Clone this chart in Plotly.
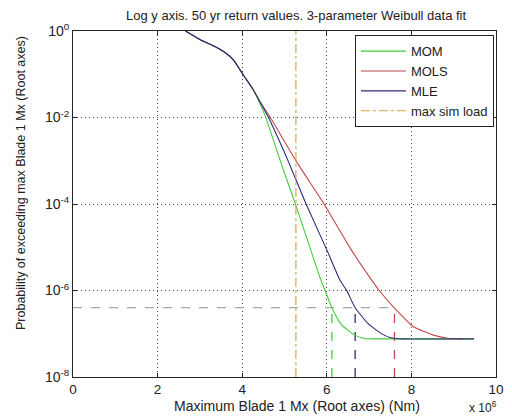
import plotly.graph_objects as go

# ---- data (x in units of 1e6 Nm, y = exceedance probability) ----
mom_x = [2.66, 3.02, 3.33, 3.57, 3.80, 4.03, 4.26, 4.40, 4.55, 4.92, 5.25, 5.62, 5.86, 5.96, 6.12, 6.35, 6.66, 6.89, 7.50, 9.48]
mom_y = [1.0, 0.62, 0.45, 0.33, 0.21, 0.095, 0.044, 2.3e-2, 1.05e-2, 8.7e-4, 1.05e-4, 8.7e-6, 1.74e-6, 1.0e-6, 4.0e-7, 1.6e-7, 9.3e-8, 7.8e-8, 7.6e-8, 7.6e-8]

mols_x = [2.66, 3.02, 3.33, 3.57, 3.80, 4.03, 4.26, 4.45, 4.65, 5.31, 5.92, 6.58, 7.06, 7.24, 7.59, 8.05, 8.52, 8.86, 9.20]
mols_y = [1.0, 0.62, 0.45, 0.33, 0.21, 0.095, 0.044, 2.1e-2, 1.05e-2, 8.7e-4, 1.05e-4, 8.7e-6, 1.74e-6, 1.0e-6, 4.0e-7, 1.45e-7, 9.3e-8, 7.9e-8, 7.6e-8]

mle_x = [2.66, 3.02, 3.33, 3.57, 3.80, 4.03, 4.26, 4.43, 4.61, 5.11, 5.50, 6.00, 6.31, 6.47, 6.67, 6.97, 7.28, 7.51, 7.80, 9.48]
mle_y = [1.0, 0.62, 0.45, 0.33, 0.21, 0.095, 0.044, 2.2e-2, 1.05e-2, 8.7e-4, 1.05e-4, 8.7e-6, 1.74e-6, 1.0e-6, 4.0e-7, 1.74e-7, 1.02e-7, 8.1e-8, 7.6e-8, 7.6e-8]

max_sim_load = 5.27
return_prob = 4.0e-7
return_values = {"MOM": 6.12, "MLE": 6.67, "MOLS": 7.60}

x_ticks = [0, 2, 4, 6, 8, 10]
y_ticks = [1e-8, 1e-6, 1e-4, 1e-2, 1e0]
y_ticktext = ["10<sup>-8</sup>", "10<sup>-6</sup>", "10<sup>-4</sup>", "10<sup>-2</sup>", "10<sup>0</sup>"]

C_MOM = "#3ccc3c"
C_MOLS = "#c04848"
C_MLE = "#2c2c78"
C_LOAD = "#d4a43c"
C_GRAY = "#a8a8a8"

y_lo, y_hi = 1e-8, 1e0

fig = go.Figure()

# horizontal return-level dashed line
fig.add_trace(go.Scatter(x=[0, return_values["MOLS"]], y=[return_prob, return_prob], mode="lines",
                         line=dict(color=C_GRAY, width=1.3, dash="dash"), showlegend=False, hoverinfo="skip"))
# vertical dashed lines to return values
for name, col in [("MOM", C_MOM), ("MLE", C_MLE), ("MOLS", C_MOLS)]:
    fig.add_trace(go.Scatter(x=[return_values[name]] * 2, y=[y_lo, return_prob], mode="lines",
                             line=dict(color=col, width=1.3, dash="dash"), showlegend=False, hoverinfo="skip"))

fig.add_trace(go.Scatter(x=mom_x, y=mom_y, mode="lines", name="MOM",
                         line=dict(color=C_MOM, width=1.1, shape="spline", smoothing=0.5)))
fig.add_trace(go.Scatter(x=mols_x, y=mols_y, mode="lines", name="MOLS",
                         line=dict(color=C_MOLS, width=1.1, shape="spline", smoothing=0.5)))
fig.add_trace(go.Scatter(x=mle_x, y=mle_y, mode="lines", name="MLE",
                         line=dict(color=C_MLE, width=1.1, shape="spline", smoothing=0.5)))
fig.add_trace(go.Scatter(x=[max_sim_load, max_sim_load], y=[y_lo, y_hi], mode="lines", name="max sim load",
                         line=dict(color=C_LOAD, width=1.1, dash="dashdot")))

FAM = "Liberation Sans, Arial, sans-serif"
tick_font = dict(family=FAM, size=13.5, color="#222")

fig.update_layout(
    width=512, height=418,
    margin=dict(l=73, r=8, t=31, b=41),
    paper_bgcolor="white", plot_bgcolor="white",
    font=dict(family=FAM, size=12, color="#222"),
    showlegend=True,
    legend=dict(x=0.995, y=0.988, xanchor="right", yanchor="top",
                bordercolor="#222", borderwidth=1, bgcolor="white",
                font=dict(family=FAM, size=13, color="#222"),
                tracegroupgap=0, itemwidth=45),
    xaxis=dict(range=[0, 10], tickvals=x_ticks, ticktext=[str(v) for v in x_ticks],
               showgrid=True, gridcolor="#444", griddash="1px,3px", gridwidth=1,
               showline=True, linecolor="#222", linewidth=1, mirror="ticks",
               ticks="inside", ticklen=4, tickcolor="#222", zeroline=False,
               tickfont=tick_font),
    yaxis=dict(type="log", range=[-8, 0], tickvals=y_ticks, ticktext=y_ticktext,
               showgrid=True, gridcolor="#444", griddash="1px,3px", gridwidth=1,
               showline=True, linecolor="#222", linewidth=1, mirror="ticks",
               ticks="inside", ticklen=4, tickcolor="#222", zeroline=False,
               tickfont=dict(family=FAM, size=14, color="#222")),
    annotations=[
        dict(text="Log y axis. 50 yr return values. 3-parameter Weibull data fit",
             xref="paper", yref="paper", x=(300 - 73) / 431, y=(377 - 15) / 346,
             xanchor="center", yanchor="middle", showarrow=False,
             font=dict(family=FAM, size=13, color="#222")),
        dict(text="Maximum Blade 1 Mx (Root axes) (Nm)",
             xref="paper", yref="paper", x=(301 - 73) / 431, y=(377 - 406) / 346,
             xanchor="center", yanchor="middle", showarrow=False,
             font=dict(family=FAM, size=14, color="#222")),
        dict(text="x 10<sup>6</sup>",
             xref="paper", yref="paper", x=(491 - 73) / 431, y=(377 - 407) / 346,
             xanchor="center", yanchor="middle", showarrow=False,
             font=dict(family=FAM, size=12, color="#222")),
        dict(text="Probability of exceeding max Blade 1 Mx (Root axes)",
             xref="paper", yref="paper", x=(20 - 73) / 431, y=(377 - 183) / 346,
             xanchor="center", yanchor="middle", textangle=-90, showarrow=False,
             font=dict(family=FAM, size=12.5, color="#222")),
    ],
)

fig.write_html("out.html")
